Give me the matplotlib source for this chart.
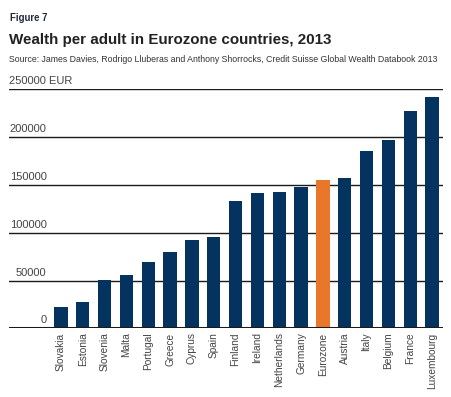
import matplotlib
matplotlib.use("Agg")
import matplotlib.pyplot as plt

countries = ["Slovakia", "Estonia", "Slovenia", "Malta", "Portugal", "Greece", "Cyprus",
             "Spain", "Finland", "Ireland", "Netherlands", "Germany", "Eurozone", "Austria",
             "Italy", "Belgium", "France", "Luxembourg"]
wealth = [22000, 27500, 50500, 55800, 69400, 79800, 92400, 95500, 133200, 141500,
          142600, 147800, 155100, 157200, 185500, 197000, 227300, 242000]
ytick_values = [0, 50000, 100000, 150000, 200000, 250000]
ytick_labels = ["0", "50000", "100000", "150000", "200000", "250000 EUR"]

NAVY = "#04335f"
ORANGE = "#e8772a"
plt.rcParams["font.family"] = ["Liberation Sans", "DejaVu Sans"]

fig = plt.figure(figsize=(4.52, 3.97), dpi=100)
ax = fig.add_axes([0.020, 0.173, 0.960, 0.602])

colors = [ORANGE if c == "Eurozone" else NAVY for c in countries]
x = list(range(len(countries)))
ax.bar(x, wealth, width=0.61, color=colors, zorder=3)

ax.set_xlim(-2.38, 17.5)
ax.set_ylim(0, 250000)

for v in ytick_values[1:]:
    ax.axhline(v, color="#1a1a1a", lw=1.0, zorder=1)
ax.axhline(0, color="#1a1a1a", lw=2.2, zorder=4)

for v, lab in zip(ytick_values, ytick_labels):
    if lab.endswith("EUR"):
        ax.text(0.0, v + 3000, lab, transform=ax.get_yaxis_transform(), ha="left",
                va="bottom", fontsize=8, color="#444444")
    else:
        ax.text(-0.66, v + 3000, lab, ha="right", va="bottom", fontsize=8, color="#444444")

ax.set_yticks([])
ax.set_xticks(x)
ax.set_xticklabels(countries, rotation=90, fontsize=7.3, color="#444444")
ax.tick_params(axis="x", length=0, pad=3)
for s in ax.spines.values():
    s.set_visible(False)

fig.text(0.022, 0.948, "Figure 7", fontsize=6.9, fontweight="bold", color="#1f2a3a",
         va="baseline")
fig.text(0.020, 0.888, "Wealth per adult in Eurozone countries, 2013", fontsize=10.9,
         fontweight="bold", color="#222222", va="baseline")
fig.text(0.020, 0.845, "Source: James Davies, Rodrigo Lluberas and Anthony Shorrocks, "
         "Credit Suisse Global Wealth Databook 2013", fontsize=6.28, color="#333333",
         va="baseline")

fig.savefig("out.png", dpi=100)
